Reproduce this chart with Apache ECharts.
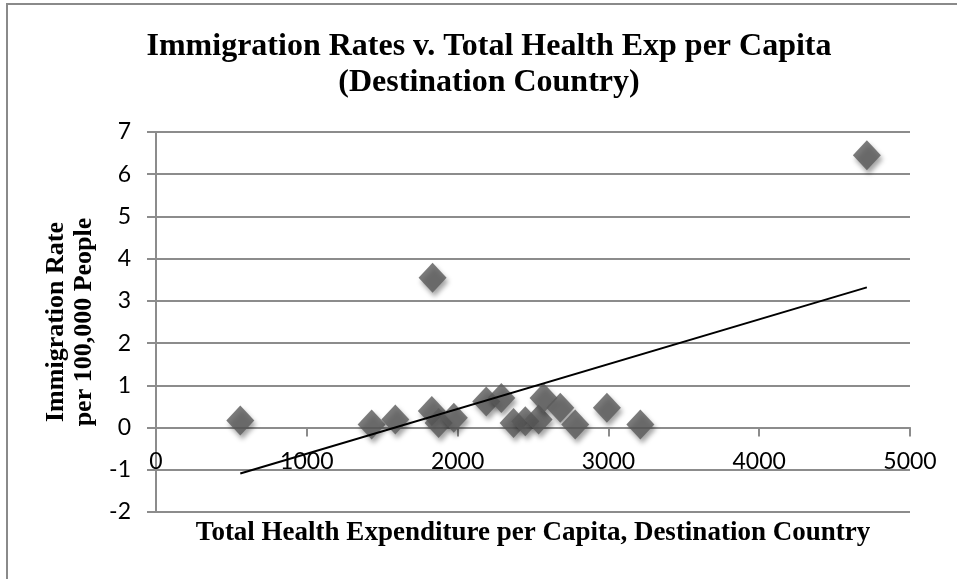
<!DOCTYPE html>
<html>
<head>
<meta charset="utf-8">
<title>Immigration Rates v. Total Health Exp per Capita</title>
<script src="https://cdn.jsdelivr.net/npm/echarts@6/dist/echarts.min.js"></script>
<style>
  html, body { margin: 0; padding: 0; background: #fff; }
  #chart { width: 957px; height: 579px; }
</style>
</head>
<body>
<div id="chart"></div>
<script>
// health expenditure per capita (x) and immigration rate per 100,000 (y)
const healthExp = [559, 1430, 1587, 1829, 1874, 1975, 2190, 2290, 2371, 2449, 2537, 2570, 2681, 2780, 2990, 3212, 1834, 4714];
const immRate   = [0.17, 0.07, 0.19, 0.39, 0.11, 0.23, 0.62, 0.70, 0.11, 0.15, 0.19, 0.70, 0.47, 0.07, 0.47, 0.07, 3.55, 6.45];
// linear trendline end points
const trendX = [559, 4714];
const trendY = [-1.09, 3.32];

const points = healthExp.map((x, i) => [x, immRate[i]]);
const trend = trendX.map((x, i) => [x, trendY[i]]);

const yMin = -2, yMax = 7;
const gridTop = 132, gridBottom = 67;
// x axis sits on y = 0, moved up from the bottom of the grid
const zeroOffset = (579 - gridTop - gridBottom) * (0 - yMin) / (yMax - yMin);

const chart = echarts.init(document.getElementById('chart'));
chart.setOption({
  animation: false,
  title: {
    text: 'Immigration Rates v. Total Health Exp per Capita\n(Destination Country)',
    left: 484,
    textAlign: 'center',
    top: 24,
    textStyle: {
      fontFamily: 'Liberation Serif',
      fontWeight: 'bold',
      fontSize: 32,
      lineHeight: 36,
      color: '#000'
    }
  },
  graphic: [{
    type: 'rect',
    shape: { x: 7, y: 4, width: 1000, height: 1000 },
    style: { fill: 'none', stroke: '#8a8a8a', lineWidth: 2 },
    silent: true
  }],
  grid: { left: 156, right: 47, top: gridTop, bottom: gridBottom, containLabel: false, outerBoundsMode: 'none' },
  xAxis: {
    type: 'value',
    min: 0, max: 5000, interval: 1000,
    position: 'bottom',
    offset: -zeroOffset,
    name: 'Total Health Expenditure per Capita, Destination Country',
    nameLocation: 'middle',
    nameGap: 92,
    nameTextStyle: { fontFamily: 'Liberation Serif', fontWeight: 'bold', fontSize: 27, color: '#000' },
    axisLine: { onZero: false, lineStyle: { color: '#8c8c8c', width: 2 } },
    axisTick: { show: true, inside: false, length: 9, lineStyle: { color: '#8c8c8c', width: 2 } },
    axisLabel: { margin: 23, fontFamily: 'Lato', fontSize: 23, color: '#000', formatter: v => String(v) },
    splitLine: { show: false }
  },
  yAxis: {
    type: 'value',
    min: yMin, max: yMax, interval: 1,
    name: 'Immigration Rate\nper 100,000 People',
    nameLocation: 'middle',
    nameGap: 56,
    nameTextStyle: { fontFamily: 'Liberation Serif', fontWeight: 'bold', fontSize: 26, lineHeight: 28, color: '#000' },
    axisLine: { show: true, onZero: false, lineStyle: { color: '#8c8c8c', width: 2 } },
    axisTick: { show: true, inside: false, length: 9, lineStyle: { color: '#8c8c8c', width: 2 } },
    axisLabel: { margin: 25, fontFamily: 'Lato', fontSize: 23, color: '#000' },
    splitLine: { show: true, lineStyle: { color: '#8c8c8c', width: 2 } }
  },
  series: [
    {
      type: 'line',
      data: trend,
      symbol: 'none',
      lineStyle: { color: '#000', width: 2 },
      z: 3
    },
    {
      type: 'scatter',
      data: points,
      symbol: 'diamond',
      symbolSize: [28, 30],
      itemStyle: {
        color: '#5a5a5a',
        shadowBlur: 5,
        shadowOffsetX: 2,
        shadowOffsetY: 4,
        shadowColor: 'rgba(0,0,0,0.45)'
      },
      z: 2
    }
  ]
});
</script>
</body>
</html>
